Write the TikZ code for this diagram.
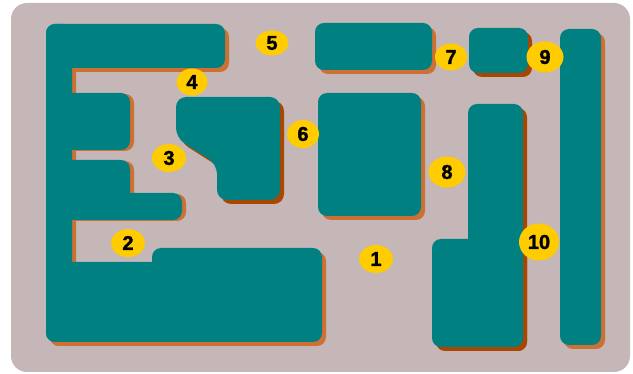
\documentclass[tikz,border=0pt]{standalone}
\usepackage{fontspec}
\setmainfont{Liberation Sans}[BoldFeatures={FakeBold=1.5}]
\usetikzlibrary{shapes.geometric}
\definecolor{board}{RGB}{197,183,183}
\definecolor{bin}{RGB}{0,128,128}
\definecolor{rim}{RGB}{204,112,51}
\definecolor{rimdark}{RGB}{170,70,0}
\definecolor{tagfill}{RGB}{255,204,0}
\tikzset{
  tag/.style={ellipse,fill=tagfill,inner sep=0pt,minimum width=34pt,minimum height=28pt},
  bigtag/.style={tag,minimum width=37pt,minimum height=31pt}
}

\begin{document}
\begin{tikzpicture}[x=1pt,y=-1pt,font=\bfseries\fontsize{20}{20}\selectfont]
\useasboundingbox (0,0) rectangle (633,374);
\fill[board,rounded corners=16pt] (11,3) rectangle (630,372);
% shadows first, then the bins on top
\foreach \a/\b in {{46,93}/{130,150}, {46,160}/{130,205}, {46,193}/{182,220}}
  \fill[rim,rounded corners=9pt,shift={(4,1)}] (\a) rectangle (\b);
\foreach \c/\a/\b in {rim/{46,24}/{225,68}, rim/{46,24}/{72,342}, rim/{46,262}/{200,342},
  rim/{152,248}/{322,342}, rim/{318,93}/{421,216}, rim/{315,23}/{432,70},
  rim/{560,29}/{601,345}, rimdark/{469,28}/{528,73}, rimdark/{468,104}/{523,347},
  rimdark/{432,239}/{523,347}}
  \fill[\c,rounded corners=9pt,shift={(4,4)}] (\a) rectangle (\b);
\fill[rimdark,rounded corners=10pt,shift={(4,4)}]
  (176,97) -- (280,97) -- (280,200) -- (217,200) -- (217,164) -- (176,138) -- cycle;
\foreach \a/\b in {{46,24}/{225,68}, {46,24}/{72,342}, {46,93}/{130,150},
  {46,160}/{130,205}, {46,193}/{182,220}, {46,262}/{200,342},
  {152,248}/{322,342}, {318,93}/{421,216}, {315,23}/{432,70},
  {560,29}/{601,345}, {469,28}/{528,73}, {468,104}/{523,347},
  {432,239}/{523,347}}
  \fill[bin,rounded corners=9pt] (\a) rectangle (\b);
\fill[bin,rounded corners=10pt]
  (176,97) -- (280,97) -- (280,200) -- (217,200) -- (217,164) -- (176,138) -- cycle;
% numbers
\node[tag] (n1) at (376,259) {1};
\node[tag] (n2) at (128,243) {2};
\node[tag] (n3) at (169,158) {3};
\node[tag,minimum width=31pt,minimum height=27pt] (n4) at (192,82) {4};
\node[tag,minimum width=33pt,minimum height=25pt] (n5) at (272,43) {5};
\node[tag,minimum width=32pt] (n6) at (303,134) {6};
\node[tag,minimum width=32pt,minimum height=27pt] (n7) at (451,57) {7};
\node[bigtag] (n8) at (447,172) {8};
\node[bigtag] (n9) at (545,57) {9};
\node[tag,minimum width=40pt,minimum height=37pt] (n10) at (539,242) {10};
\end{tikzpicture}
\end{document}
